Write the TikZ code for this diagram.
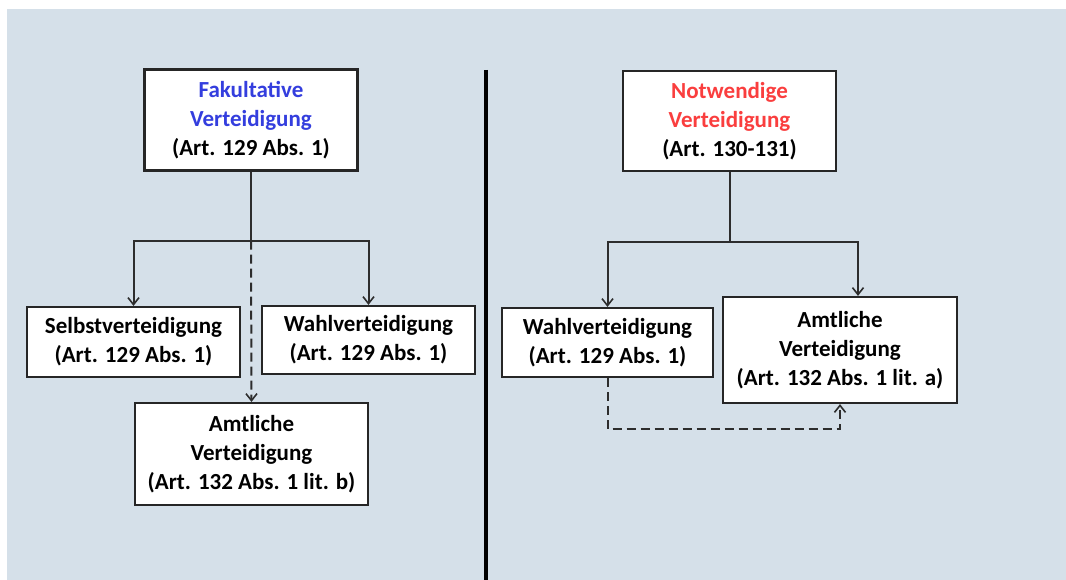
\documentclass[tikz,border=0pt]{standalone}
\usepackage{fontspec}
\setmainfont{Carlito}
\usetikzlibrary{arrows.meta,calc}
\definecolor{panel}{RGB}{213,224,233}
\definecolor{titleblue}{RGB}{52,62,222}
\definecolor{titlered}{RGB}{250,62,62}
\definecolor{linegray}{RGB}{45,45,45}
\begin{document}
\begin{tikzpicture}[x=1pt,y=-1pt,
  box/.style={draw=black!85,line width=2.2pt,fill=white,align=center,
    font=\bfseries\fontsize{23}{29}\selectfont,inner sep=0pt},
  conn/.style={draw=linegray,line width=2pt},
  arr/.style={conn,-{Straight Barb[length=7pt,width=11pt,line width=1.6pt]}},
  dasharr/.style={arr,dash pattern=on 9pt off 5pt},
  divider/.style={draw=black,line width=3.2pt}]
\useasboundingbox (0,0) rectangle (1066,580);
\fill[panel] (7,9) rectangle (1066,580);

% left tree: optional defence
\node[box,minimum width=213,minimum height=101] (fak) at (251,120)
  {\textcolor{titleblue}{Fakultative}\\\textcolor{titleblue}{Verteidigung}\\(Art. 129 Abs. 1)};
\node[box,minimum width=213,minimum height=70] (selbst) at (133.5,342)
  {Selbstverteidigung\\(Art. 129 Abs. 1)};
\node[box,minimum width=213,minimum height=68] (wahlL) at (368.5,340)
  {Wahlverteidigung\\(Art. 129 Abs. 1)};
\node[box,minimum width=233,minimum height=102] (amtB) at (251.5,454)
  {Amtliche\\Verteidigung\\(Art. 132 Abs. 1 lit. b)};

\draw[conn] (fak.south) -- ++(0,69) coordinate (jL);
\draw[arr] (jL) -| (selbst.north);
\draw[arr] (jL) -| (wahlL.north);
\draw[dasharr] (jL) -- (amtB.north);

% divider between the two cases
\coordinate (dtop) at (486,70);
\coordinate (dbot) at (486,580);
\draw[divider] (dtop) -- (dbot);

% right tree: mandatory defence
\node[box,minimum width=213,minimum height=100] (notw) at (729.5,121)
  {\textcolor{titlered}{Notwendige}\\\textcolor{titlered}{Verteidigung}\\(Art. 130-131)};
\node[box,minimum width=211,minimum height=69] (wahlR) at (607.5,342.5)
  {Wahlverteidigung\\(Art. 129 Abs. 1)};
\node[box,minimum width=234,minimum height=106] (amtA) at (840,350)
  {Amtliche\\Verteidigung\\(Art. 132 Abs. 1 lit. a)};

\draw[conn] (notw.south) -- ++(0,70) coordinate (jR);
\draw[arr] (jR) -| (wahlR.north);
\draw[arr] (jR) -| ([xshift=18pt]amtA.north);
\draw[dasharr] (wahlR.south) -- ++(0,51) -| (amtA.south);
\end{tikzpicture}
\end{document}
